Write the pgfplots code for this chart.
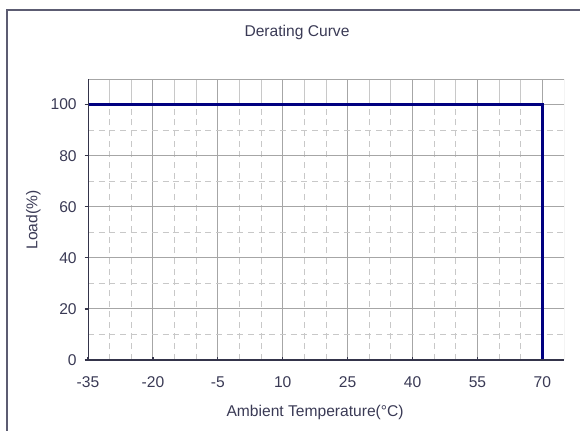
\documentclass[border=0pt]{standalone}
\usepackage{fontspec}
\setmainfont{Liberation Sans}
\usepackage{pgfplots}
\pgfplotsset{compat=1.18}
\definecolor{TextInk}{HTML}{3A3A55}
\definecolor{AxisInk}{HTML}{34344A}
\definecolor{Frame}{HTML}{5C5C72}
\definecolor{MajorGrid}{HTML}{A6A6A6}
\definecolor{MinorGrid}{HTML}{C8C8C8}
\definecolor{Curve}{HTML}{000080}

\begin{document}
\begin{tikzpicture}
% page is 580x430 px at 0.75pt per px
\useasboundingbox (0,0) rectangle (435pt,322.5pt);
\draw[Frame,line width=1.1pt] (5.25pt,-20pt) -- (5.25pt,315pt) -- (450pt,315pt);
\node[TextInk,font=\fontsize{11.7}{13}\selectfont] at (222.75pt,298.5pt) {Derating Curve};
\begin{axis}[
  at={(66pt,52.5pt)},anchor=south west,
  scale only axis,width=357pt,height=210.75pt,
  xmin=-35,xmax=75,ymin=0,ymax=110,
  xtick={-35,-20,...,70},ytick={0,20,...,100},
  minor xtick={-30,-25,-15,-10,0,5,15,20,30,35,45,50,60,65},
  minor ytick={10,30,50,70,90},
  grid=both,
  major grid style={MajorGrid,line width=0.75pt},
  minor grid style={MinorGrid,line width=0.75pt,dash pattern=on 4.5pt off 3.5pt},
  minor tick length=0pt,major tick length=2.5pt,
  xtick align=inside,ytick align=outside,tick pos=left,
  tick style={AxisInk,line width=1pt},
  axis line style={draw=none},
  /pgf/number format/assume math mode=true,
  tick label style={TextInk,font=\fontsize{11.7}{13}\selectfont},
  xticklabel style={yshift=-9pt},
  yticklabel style={xshift=-2.5pt},
  label style={TextInk,font=\fontsize{11.7}{13}\selectfont},
  xlabel={Ambient Temperature(°C)},
  ylabel={Load(\%)},
  xlabel style={at={(axis description cs:0.477,-0.185)},anchor=center},
  ylabel style={at={(axis description cs:-0.115,0.498)},anchor=center},
]
\pgfplotsinvokeforeach{-30,-25,-15,-10,0,5,15,20,30,35,45,50,60,65}{
  \draw[MinorGrid,line width=0.75pt] (axis cs:#1,100) -- (axis cs:#1,110);
}
\addplot[Curve,line width=2.25pt,line join=miter] coordinates {(-35,100)(70,100)(70,0)};
\draw[MajorGrid,line width=0.75pt] (rel axis cs:0,1) -- (rel axis cs:1,1) -- (rel axis cs:1,0);
\draw[AxisInk,line width=1.5pt] (rel axis cs:0,1) -- (rel axis cs:0,0) -- (rel axis cs:1,0);
\end{axis}
\end{tikzpicture}
\end{document}
